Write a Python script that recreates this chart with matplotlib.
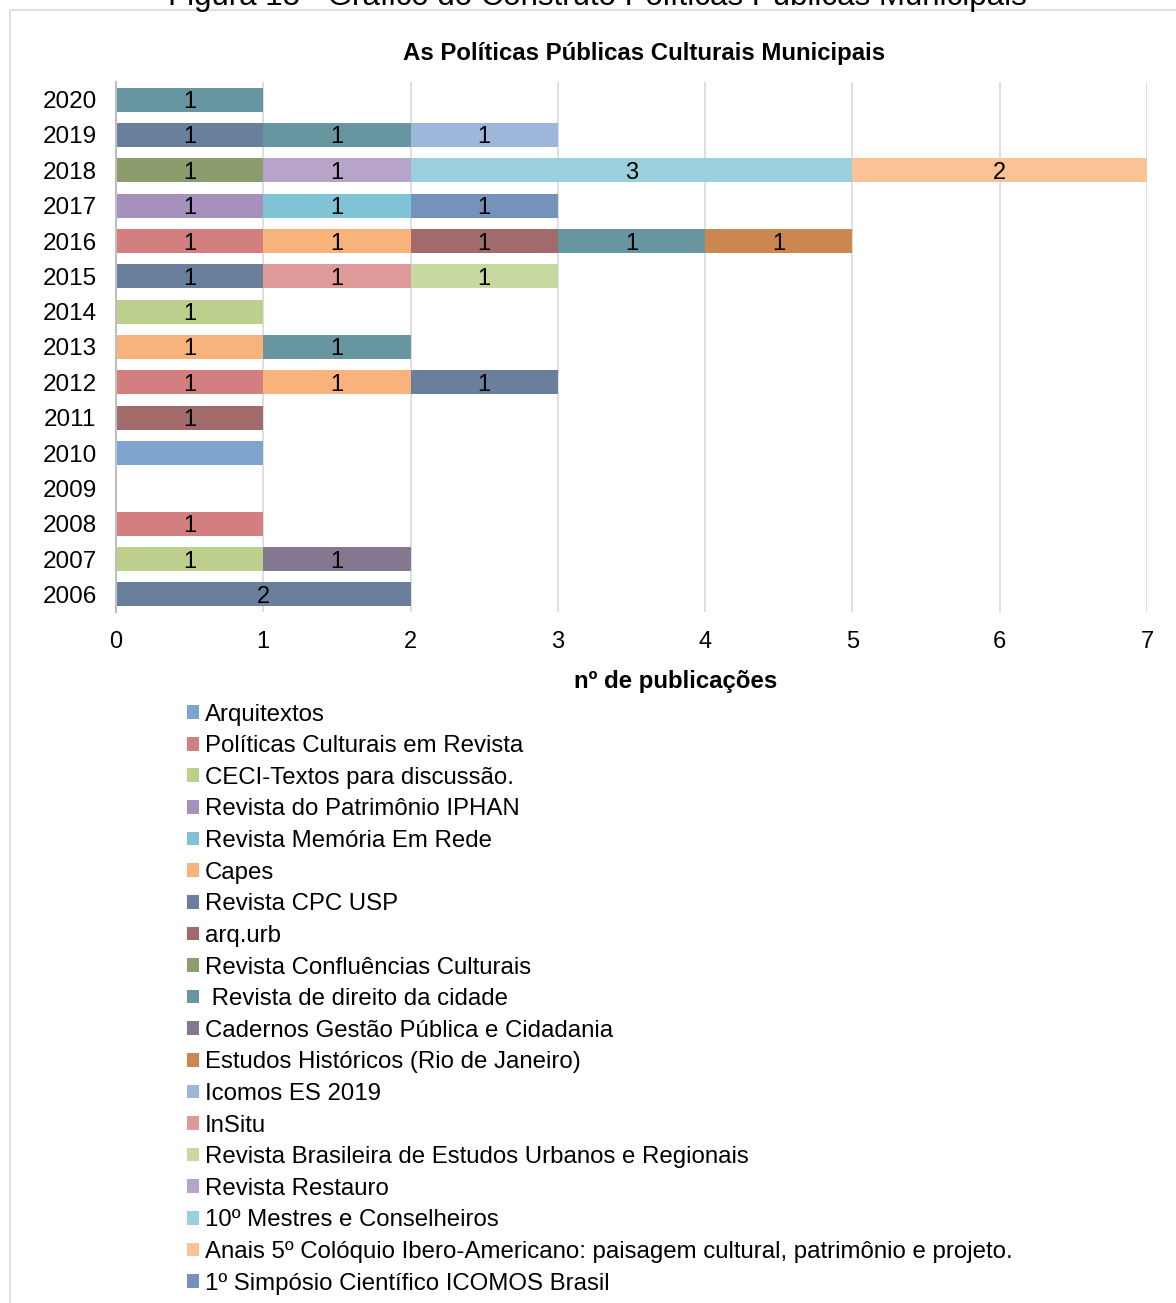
import numpy as np
import matplotlib
matplotlib.use("Agg")
import matplotlib.pyplot as plt
from matplotlib.patches import Patch, Rectangle

plt.rcParams["font.family"] = ["Liberation Sans", "DejaVu Sans"]

years = [2006, 2007, 2008, 2009, 2010, 2011, 2012, 2013, 2014, 2015, 2016, 2017, 2018, 2019, 2020]

series_names = [
    "Arquitextos",
    "Políticas Culturais em Revista",
    "CECI-Textos para discussão.",
    "Revista do Patrimônio IPHAN",
    "Revista Memória Em Rede",
    "Capes",
    "Revista CPC USP",
    "arq.urb",
    "Revista Confluências Culturais",
    " Revista de direito da cidade",
    "Cadernos Gestão Pública e Cidadania",
    "Estudos Históricos (Rio de Janeiro)",
    "Icomos ES 2019",
    "InSitu",
    "Revista Brasileira de Estudos Urbanos e Regionais",
    "Revista Restauro",
    "10º Mestres e Conselheiros",
    "Anais 5º Colóquio Ibero-Americano: paisagem cultural, patrimônio e projeto.",
    "1º Simpósio Científico ICOMOS Brasil",
]

series_colors = [
    "#7fa5ce", "#d37f7f", "#bccf8c", "#a590be", "#80c3d4", "#f8b27b",
    "#6a7f9c", "#a06b6a", "#8d9c6c", "#6795a0", "#84778f", "#cc8750",
    "#9db7db", "#de9a98", "#c7d9a1", "#b6a5c9", "#9acfdc", "#fac396",
    "#7393ba",
]

# counts per series, by year (2006 ... 2020)
arquitextos      = [0, 0, 0, 0, 1, 0, 0, 0, 0, 0, 0, 0, 0, 0, 0]
politicas_cult   = [0, 0, 1, 0, 0, 0, 1, 0, 0, 0, 1, 0, 0, 0, 0]
ceci             = [0, 1, 0, 0, 0, 0, 0, 0, 1, 0, 0, 0, 0, 0, 0]
patrimonio_iphan = [0, 0, 0, 0, 0, 0, 0, 0, 0, 0, 0, 1, 0, 0, 0]
memoria_rede     = [0, 0, 0, 0, 0, 0, 0, 0, 0, 0, 0, 1, 0, 0, 0]
capes            = [0, 0, 0, 0, 0, 0, 1, 1, 0, 0, 1, 0, 0, 0, 0]
cpc_usp          = [2, 0, 0, 0, 0, 0, 1, 0, 0, 1, 0, 0, 0, 1, 0]
arq_urb          = [0, 0, 0, 0, 0, 1, 0, 0, 0, 0, 1, 0, 0, 0, 0]
confluencias     = [0, 0, 0, 0, 0, 0, 0, 0, 0, 0, 0, 0, 1, 0, 0]
direito_cidade   = [0, 0, 0, 0, 0, 0, 0, 1, 0, 0, 1, 0, 0, 1, 1]
cadernos_gestao  = [0, 1, 0, 0, 0, 0, 0, 0, 0, 0, 0, 0, 0, 0, 0]
estudos_hist     = [0, 0, 0, 0, 0, 0, 0, 0, 0, 0, 1, 0, 0, 0, 0]
icomos_es        = [0, 0, 0, 0, 0, 0, 0, 0, 0, 0, 0, 0, 0, 1, 0]
insitu           = [0, 0, 0, 0, 0, 0, 0, 0, 0, 1, 0, 0, 0, 0, 0]
rbeur            = [0, 0, 0, 0, 0, 0, 0, 0, 0, 1, 0, 0, 0, 0, 0]
restauro         = [0, 0, 0, 0, 0, 0, 0, 0, 0, 0, 0, 0, 1, 0, 0]
mestres          = [0, 0, 0, 0, 0, 0, 0, 0, 0, 0, 0, 0, 3, 0, 0]
anais_coloquio   = [0, 0, 0, 0, 0, 0, 0, 0, 0, 0, 0, 0, 2, 0, 0]
simposio_icomos  = [0, 0, 0, 0, 0, 0, 0, 0, 0, 0, 0, 1, 0, 0, 0]

series_values = [
    arquitextos, politicas_cult, ceci, patrimonio_iphan, memoria_rede, capes,
    cpc_usp, arq_urb, confluencias, direito_cidade, cadernos_gestao,
    estudos_hist, icomos_es, insitu, rbeur, restauro, mestres,
    anais_coloquio, simposio_icomos,
]
# Arquitextos has no data label in the original
show_labels = [False] + [True] * 18

W, H = 1176, 1303
fig = plt.figure(figsize=(W / 100, H / 100), dpi=100)

# outer chart border
fig.patches.append(Rectangle((10 / W, -0.01), 1.0, 1 - 10 / H + 0.01,
                             transform=fig.transFigure, fill=False,
                             edgecolor="#d9d9d9", linewidth=1.2))
fig.text(597 / W, 1 - 5 / H, "Figura 18 - Gráfico do Construto Políticas Públicas Municipais",
         ha="center", va="baseline", fontsize=22.5)

ax = fig.add_axes([116 / W, 1 - 612 / H, (1147 - 116) / W, (612 - 82) / H])

y = np.arange(len(years))
left = np.zeros(len(years))
for name, vals, color, lab in zip(series_names, series_values, series_colors, show_labels):
    vals = np.array(vals, dtype=float)
    bars = ax.barh(y, vals, left=left, height=0.67, color=color, edgecolor="none", zorder=2)
    if lab:
        for b, v in zip(bars, vals):
            if v > 0:
                ax.text(b.get_x() + b.get_width() / 2, b.get_y() + b.get_height() / 2,
                        f"{int(v)}", ha="center", va="center_baseline", fontsize=17, zorder=3)
    left += vals

ax.set_xlim(0, 7)
ax.set_ylim(-0.5, len(years) - 0.5)
ax.set_yticks(y)
ax.set_yticklabels([str(v) for v in years], fontsize=17.5)
ax.set_xticks(range(8))
ax.tick_params(axis="x", labelsize=17, length=0, pad=14)
ax.tick_params(axis="y", length=0, pad=14)
ax.grid(axis="x", color="#d9d9d9", linewidth=1.2, zorder=0)
for s in ["top", "right", "bottom"]:
    ax.spines[s].set_visible(False)
ax.spines["left"].set_color("#bfbfbf")
ax.spines["left"].set_linewidth(1.5)
ax.spines["left"].set_zorder(4)

ax.set_xlabel("nº de publicações", fontsize=17.3, fontweight="bold")
ax.xaxis.set_label_coords((676 - 116) / (1147 - 116), -(670 - 612) / (612 - 82))
ax.set_title("As Políticas Públicas Culturais Municipais", fontsize=17.3,
             fontweight="bold", x=(644 - 116) / (1147 - 116), y=1.0, pad=16)

handles = [Patch(facecolor=c, edgecolor="none") for c in series_colors]
fig.legend(handles, series_names, loc="upper left",
           bbox_to_anchor=(177 / W, 1 - 694 / H), frameon=False, fontsize=17.3,
           handlelength=0.5, handleheight=0.5, handletextpad=0.25,
           labelspacing=0.40, borderaxespad=0)

fig.savefig("out.png", dpi=100)
